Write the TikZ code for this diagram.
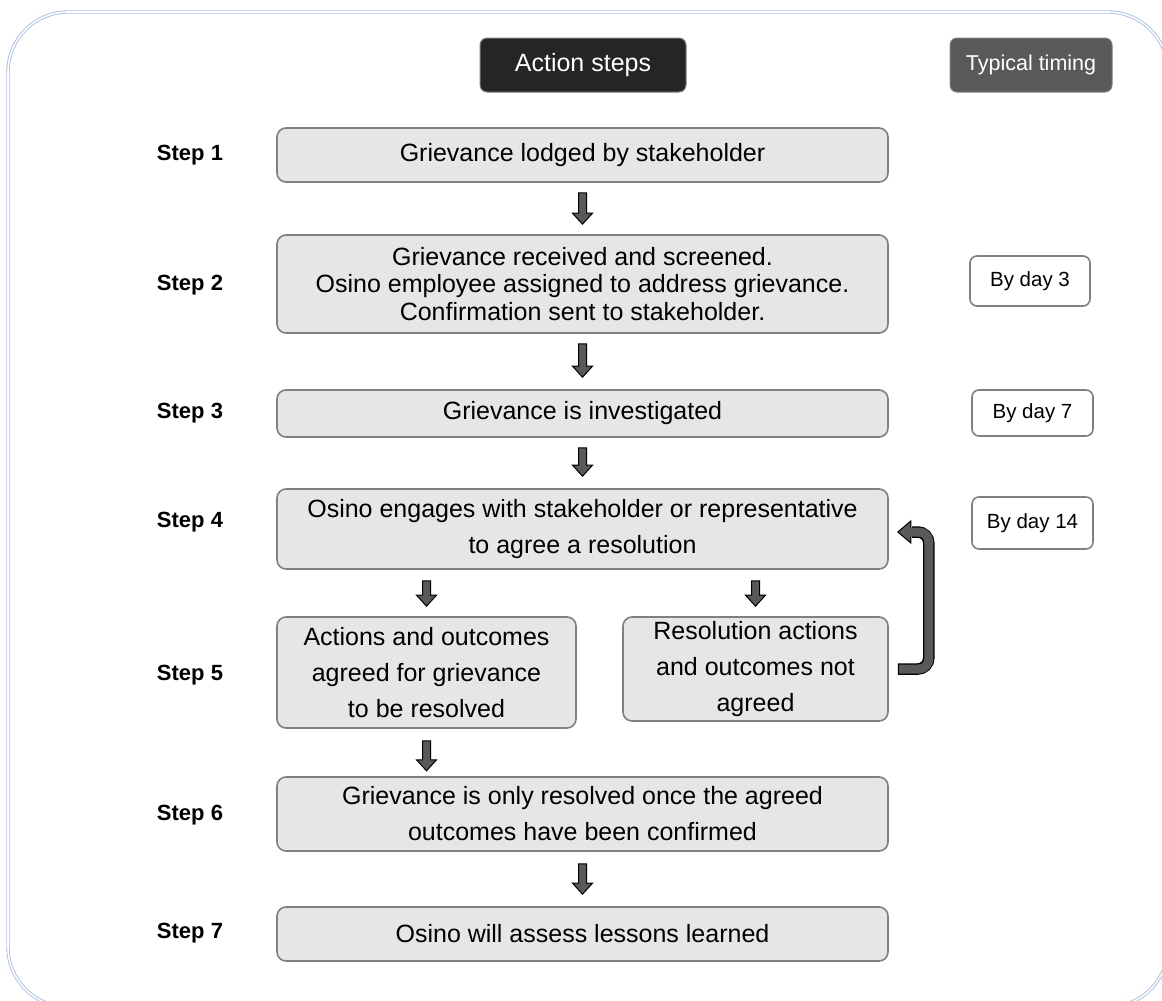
\documentclass[tikz,border=0pt]{standalone}
\usepackage{fontspec}
\setmainfont{Liberation Sans}
\usetikzlibrary{calc}
\definecolor{boxfill}{HTML}{E6E6E6}
\definecolor{boxline}{HTML}{808080}
\definecolor{agray}{HTML}{595959}
\definecolor{hdark}{HTML}{252525}
\definecolor{frameblue}{HTML}{A9BFE6}
\newcommand\blockdown[2]{%
  \path let \p1=#1, \p2=#2 in
    [fill=agray, draw=black, line width=1pt, line join=miter]
    (\x1-4pt,\y1) -- (\x1+4pt,\y1) -- (\x1+4pt,\y2+11pt) -- (\x1+10pt,\y2+11pt)
    -- (\x1,\y2) -- (\x1-10pt,\y2+11pt) -- (\x1-4pt,\y2+11pt) -- cycle;}
\begin{document}
\begin{tikzpicture}[x=1pt,y=-1pt,
  stepbox/.style={draw=boxline, fill=boxfill, line width=1.6pt, rounded corners=9pt,
    align=center, inner sep=0pt, font=\fontsize{25}{36}\selectfont},
  steplabel/.style={font=\bfseries\fontsize{22}{26}\selectfont, inner sep=0pt},
  hdrbox/.style={draw=boxline, line width=1pt, rounded corners=7pt, text=white,
    inner sep=0pt},
  timebox/.style={draw=boxline, fill=white, line width=1.6pt, rounded corners=7pt,
    inner sep=0pt, font=\fontsize{20.5}{24}\selectfont}]
\useasboundingbox (0,0) rectangle (1162,1001);
\begin{scope}
  \clip (0,0) rectangle (1162,1001);
  \draw[frameblue, line width=0.9pt, double=white, double distance=1.6pt,
    rounded corners=60pt] (8,12) rectangle (1168,1007);
\end{scope}
% headers
\node[hdrbox, fill=hdark, minimum width=206pt, minimum height=54pt,
  font=\fontsize{25}{29}\selectfont] (ha) at (583,65) {Action steps};
\node[hdrbox, fill=agray, minimum width=162pt, minimum height=54pt,
  font=\fontsize{21.5}{25}\selectfont] (ht) at (1031,65) {Typical timing};
% step labels
\node[steplabel] (l1) at (190,155) {Step 1};
\node[steplabel] (l2) at (190,285) {Step 2};
\node[steplabel] (l3) at (190,413) {Step 3};
\node[steplabel] (l4) at (190,522) {Step 4};
\node[steplabel] (l5) at (190,675) {Step 5};
\node[steplabel] (l6) at (190,815) {Step 6};
\node[steplabel] (l7) at (190,933) {Step 7};
% step boxes
\node[stepbox, minimum width=611pt, minimum height=54pt] (s1) at (582.5,155)
  {Grievance lodged by stakeholder};
\node[stepbox, minimum width=611pt, minimum height=98pt,
  font=\fontsize{25}{27.5}\selectfont] (s2) at (582.5,284)
  {Grievance received and screened.\\Osino employee assigned to address grievance.\\Confirmation sent to stakeholder.};
\node[stepbox, minimum width=611pt, minimum height=47pt] (s3) at (582.5,413.5)
  {Grievance is investigated};
\node[stepbox, minimum width=611pt, minimum height=80pt] (s4) at (582.5,529)
  {Osino engages with stakeholder or representative\\to agree a resolution};
\node[stepbox, minimum width=299pt, minimum height=111pt] (a5) at (426.5,672.5)
  {Actions and outcomes\\agreed for grievance\\to be resolved};
\node[stepbox, minimum width=265pt, minimum height=104pt] (r5) at (755.5,669)
  {Resolution actions\\and outcomes not\\agreed};
\node[stepbox, minimum width=611pt, minimum height=74pt] (s6) at (582.5,814)
  {Grievance is only resolved once the agreed\\outcomes have been confirmed};
\node[stepbox, minimum width=611pt, minimum height=54pt] (s7) at (582.5,934)
  {Osino will assess lessons learned};
% timing
\node[timebox, minimum width=120pt, minimum height=50pt] (t2) at (1030,281) {By day 3};
\node[timebox, minimum width=121pt, minimum height=46pt] (t3) at (1032.5,413) {By day 7};
\node[timebox, minimum width=121pt, minimum height=52pt] (t4) at (1032.5,523) {By day 14};
% block arrows
\blockdown{($(s1.south)+(0,10)$)}{($(s2.north)+(0,-10)$)}
\blockdown{($(s2.south)+(0,10)$)}{($(s3.north)+(0,-12)$)}
\blockdown{($(s3.south)+(0,10)$)}{($(s4.north)+(0,-12)$)}
\blockdown{($(s4.south -| a5.north)+(0,11)$)}{($(a5.north)+(0,-10)$)}
\blockdown{($(s4.south -| r5.north)+(0,11)$)}{($(r5.north)+(0,-10)$)}
\blockdown{($(a5.south)+(0,12)$)}{($(s6.north |- a5.south)+(0,42)$)}
\blockdown{($(s6.south)+(0,12)$)}{($(s7.north)+(0,-12)$)}
% loop arrow
\coordinate (la) at ($(r5.east)+(9,0)$);
\coordinate (lb) at ($(s4.east)+(9,3)$);
\coordinate (lc) at ($(s4.east)+(40,3)$);
\draw[line width=11.5pt, black, rounded corners=11pt] (la) -| (lc) -- ($(lb)+(14,0)$);
\draw[fill=agray, draw=black, line width=1pt, line join=miter]
  (lb) -- ++(13,-11) -- ++(0,22) -- cycle;
\draw[line width=9pt, agray, rounded corners=10pt] ($(la)+(1.2,0)$) -| (lc) -- ($(lb)+(12,0)$);
\end{tikzpicture}
\end{document}
